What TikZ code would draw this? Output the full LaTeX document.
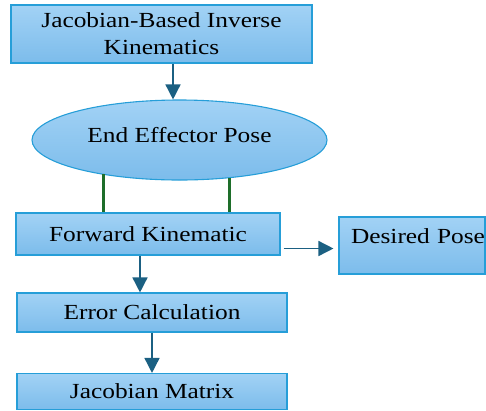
\documentclass[tikz,border=0pt]{standalone}
\usepackage{fontspec}
\setmainfont{Liberation Serif}[FakeStretch=1.18]
\usetikzlibrary{arrows.meta,shapes.geometric,calc}
\definecolor{boxtop}{RGB}{162,210,245}
\definecolor{boxbot}{RGB}{124,188,235}
\definecolor{boxline}{RGB}{38,158,216}
\definecolor{arrowc}{RGB}{27,96,130}
\definecolor{greenc}{RGB}{30,110,42}
\tikzset{
  flowbox/.style={rectangle, draw=boxline, line width=1.1pt, top color=boxtop, bottom color=boxbot,
    inner sep=0pt, font=\fontsize{21.5}{27}\selectfont, align=center},
  flowell/.style={ellipse, draw=boxline, line width=1.1pt, top color=boxtop, bottom color=boxbot,
    inner sep=0pt, font=\fontsize{21.5}{27}\selectfont},
  flowarrow/.style={draw=arrowc, line width=1.5pt, -{Triangle[width=15pt,length=15pt]}},
  greenlink/.style={draw=greenc, line width=3pt}
}
\begin{document}
\begin{tikzpicture}[x=1pt,y=-1pt]
\useasboundingbox (0,0) rectangle (486,410);
\node[flowbox, minimum width=301pt, minimum height=58pt] (jbik) at (161.5,34) {Jacobian-Based Inverse\\Kinematics};
\node[flowell, minimum width=295pt, minimum height=80pt] (eep) at (179.5,140) {\raisebox{10pt}{End Effector Pose}};
\node[flowbox, minimum width=264pt, minimum height=42pt] (fk) at (148,234) {Forward Kinematic};
\node[flowbox, minimum width=146pt, text height=26pt, text depth=31pt, text width=146pt] (dp) at (412,245.5) {\hspace*{12pt}Desired Pose};
\node[flowbox, minimum width=270pt, minimum height=39pt] (err) at (152,312.5) {Error Calculation};
\node[flowbox, minimum width=270pt, minimum height=36pt] (jm) at (152,391.5) {Jacobian Matrix};
\coordinate (g1) at (103,174);
\coordinate (g2) at (229,177.5);
\draw[greenlink] (g1) -- (g1 |- fk.north);
\draw[greenlink] (g2) -- (g2 |- fk.north);
\coordinate (a1) at (173,0);
\draw[flowarrow] (a1 |- jbik.south) -- (a1 |- eep.north);
\coordinate (a2) at (140,0);
\draw[flowarrow] (a2 |- fk.south) -- (a2 |- err.north);
\coordinate (a3) at (152,0);
\draw[flowarrow] (a3 |- err.south) -- (a3 |- jm.north);
\coordinate (a4) at (0,248.5);
\draw[flowarrow] ($(a4 -| fk.east)+(3,0)$) -- ($(a4 -| dp.west)+(-5,0)$);
\end{tikzpicture}
\end{document}
